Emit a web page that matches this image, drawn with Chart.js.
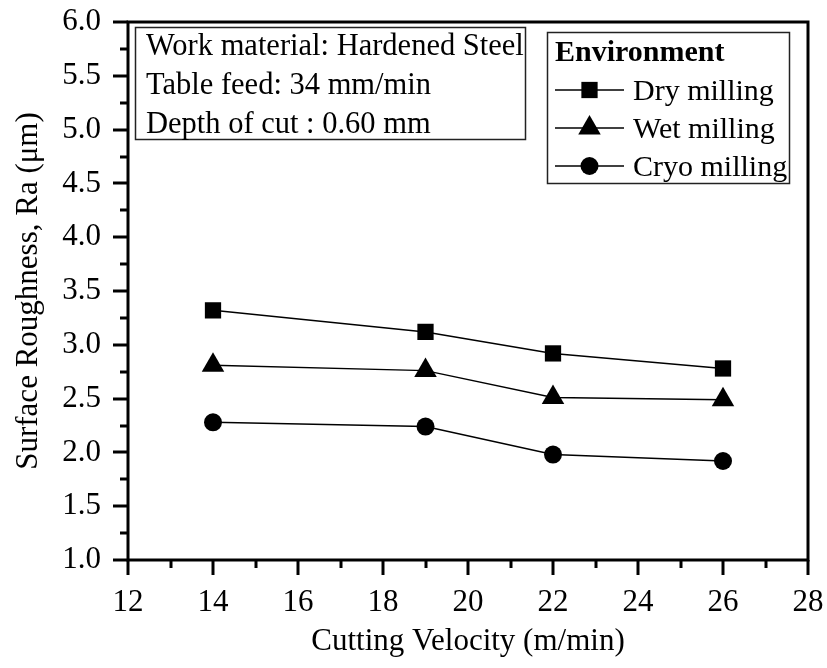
<!DOCTYPE html>
<html>
<head>
<meta charset="utf-8">
<script src="https://cdn.jsdelivr.net/npm/chart.js@4/dist/chart.umd.min.js"></script>
<style>
html,body{margin:0;padding:0;background:#fff;}
#wrap{width:827px;height:668px;position:relative;}
</style>
</head>
<body>
<div id="wrap"><canvas id="c" width="827" height="668"></canvas></div>
<script>
const velocities = [14, 19, 22, 26];
const dryMilling = [3.32, 3.12, 2.92, 2.78];
const wetMilling = [2.81, 2.76, 2.51, 2.49];
const cryoMilling = [2.28, 2.24, 1.98, 1.92];
const seriesNames = ['Dry milling', 'Wet milling', 'Cryo milling'];
const xTicks = [12, 14, 16, 18, 20, 22, 24, 26, 28];
const yTicks = [1.0, 1.5, 2.0, 2.5, 3.0, 3.5, 4.0, 4.5, 5.0, 5.5, 6.0];
const infoLines = ['Work material: Hardened Steel', 'Table feed: 34 mm/min', 'Depth of cut : 0.60 mm'];
const legendTitle = 'Environment';

const FONT = '"Liberation Serif", "Times New Roman", serif';

function toPts(vals) { return velocities.map((v, i) => ({x: v, y: vals[i]})); }

function mkSet(label, vals, style, r) {
  return {
    label, data: toPts(vals),
    borderColor: '#000', backgroundColor: '#000', borderWidth: 1.5,
    pointStyle: style, pointRadius: r, pointHoverRadius: r,
    pointBackgroundColor: '#000', pointBorderColor: '#000', pointBorderWidth: 0,
    tension: 0, fill: false
  };
}

function drawMarker(ctx, style, r, x, y) {
  ctx.beginPath();
  if (style === 'rect') {
    const s = Math.SQRT1_2 * r;
    ctx.rect(x - s, y - s, 2 * s, 2 * s);
  } else if (style === 'triangle') {
    let rad = 0;
    ctx.moveTo(x + Math.sin(rad) * r, y - Math.cos(rad) * r);
    rad += 2 * Math.PI / 3;
    ctx.lineTo(x + Math.sin(rad) * r, y - Math.cos(rad) * r);
    rad += 2 * Math.PI / 3;
    ctx.lineTo(x + Math.sin(rad) * r, y - Math.cos(rad) * r);
    ctx.closePath();
  } else {
    ctx.arc(x, y, r, 0, Math.PI * 2);
  }
  ctx.fill();
}

const decor = {
  id: 'decor',
  afterDraw(chart) {
    const ctx = chart.ctx;
    const a = chart.chartArea;
    const xs = chart.scales.x, ys = chart.scales.y;
    ctx.save();
    ctx.strokeStyle = '#000';
    ctx.lineWidth = 3;
    ctx.lineCap = 'butt';
    ctx.strokeRect(a.left, a.top, a.right - a.left, a.bottom - a.top);
    for (let v = 12; v <= 28; v += 1) {
      const px = Math.round(xs.getPixelForValue(v));
      const len = (v % 2 === 0) ? 15 : 8;
      ctx.beginPath(); ctx.moveTo(px, a.bottom); ctx.lineTo(px, a.bottom + len); ctx.stroke();
    }
    for (let k = 0; k <= 20; k++) {
      const v = 1 + k * 0.25;
      const py = Math.round(ys.getPixelForValue(v));
      const len = (k % 2 === 0) ? 15 : 8;
      ctx.beginPath(); ctx.moveTo(a.left, py); ctx.lineTo(a.left - len, py); ctx.stroke();
    }
    ctx.lineWidth = 1.5;
    ctx.strokeStyle = '#222';
    ctx.strokeRect(135.5, 27.5, 390, 112);
    ctx.fillStyle = '#000';
    ctx.font = '30.5px ' + FONT;
    ctx.textAlign = 'left';
    ctx.textBaseline = 'alphabetic';
    const base = [55, 94, 133];
    infoLines.forEach((t, i) => ctx.fillText(t, 146, base[i]));
    ctx.strokeRect(547.5, 32.5, 242, 151);
    ctx.font = 'bold 30px ' + FONT;
    ctx.fillText(legendTitle, 555, 61);
    ctx.font = '30px ' + FONT;
    const rows = [90, 128, 166];
    chart.data.datasets.forEach((ds, i) => {
      const y = rows[i];
      ctx.lineWidth = 1.5;
      ctx.strokeStyle = '#000';
      ctx.beginPath(); ctx.moveTo(555, y); ctx.lineTo(624, y); ctx.stroke();
      ctx.fillStyle = '#000';
      drawMarker(ctx, ds.pointStyle, ds.pointRadius, 589.5, y);
      ctx.fillText(ds.label, 633, y + 10);
    });
    ctx.restore();
  }
};

new Chart(document.getElementById('c'), {
  type: 'line',
  data: {
    datasets: [
      mkSet(seriesNames[0], dryMilling, 'rect', 11.5),
      mkSet(seriesNames[1], wetMilling, 'triangle', 13),
      mkSet(seriesNames[2], cryoMilling, 'circle', 9)
    ]
  },
  options: {
    responsive: false,
    animation: false,
    devicePixelRatio: 1,
    layout: {padding: {top: 22, right: 19, left: 0, bottom: 0}},
    plugins: {legend: {display: false}, tooltip: {enabled: false}},
    scales: {
      x: {
        type: 'linear', min: 12, max: 28,
        afterBuildTicks: s => { s.ticks = xTicks.map(v => ({value: v})); },
        afterFit: s => { s.height = 108; s.paddingLeft = 0; s.paddingRight = 0; },
        grid: {display: false}, border: {display: false},
        ticks: {color: '#000', font: {family: FONT, size: 31}, padding: 16, maxRotation: 0, autoSkip: false},
        title: {display: true, text: 'Cutting Velocity (m/min)', color: '#000', font: {family: FONT, size: 31}, padding: {top: 0, bottom: 8}}
      },
      y: {
        type: 'linear', min: 1, max: 6,
        afterBuildTicks: s => { s.ticks = yTicks.map(v => ({value: v})); },
        afterFit: s => { s.width = 128; s.paddingTop = 0; s.paddingBottom = 0; },
        grid: {display: false}, border: {display: false},
        ticks: {color: '#000', font: {family: FONT, size: 31}, padding: 19, callback: v => Number(v).toFixed(1), autoSkip: false},
        title: {display: true, text: 'Surface Roughness, Ra (μm)', color: '#000', font: {family: FONT, size: 31}, padding: {top: 10, bottom: 0}}
      }
    }
  },
  plugins: [decor]
});
</script>
</body>
</html>
